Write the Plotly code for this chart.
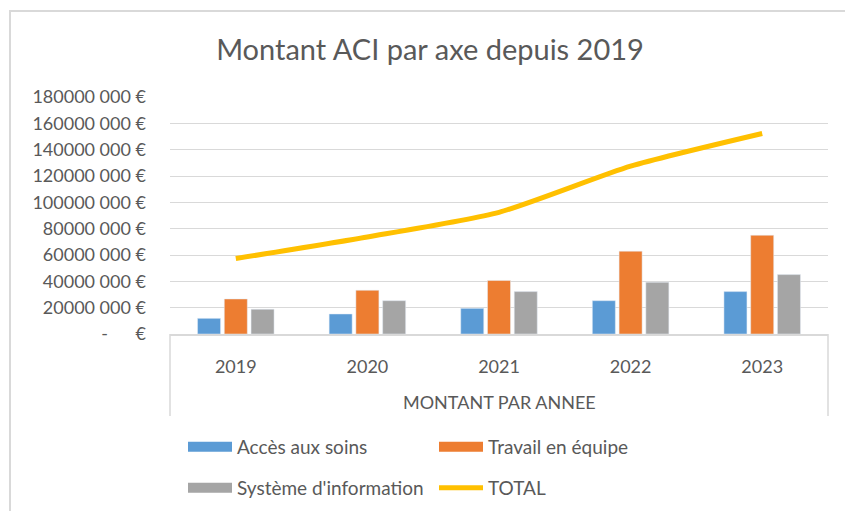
import plotly.graph_objects as go

years = ["2019", "2020", "2021", "2022", "2023"]
acces_soins = [11.9e6, 15.2e6, 19.5e6, 25.3e6, 32.2e6]
travail_equipe = [26.6e6, 33.2e6, 40.7e6, 62.9e6, 75.0e6]
systeme_info = [18.8e6, 25.3e6, 32.2e6, 39.3e6, 45.1e6]
total = [57.3e6, 73.7e6, 92.4e6, 127.5e6, 152.3e6]

tick_vals = [0, 20e6, 40e6, 60e6, 80e6, 100e6, 120e6, 140e6, 160e6, 180e6]
tick_text = ["-\u00a0\u00a0\u00a0\u00a0\u00a0\u00a0€", "20000 000 €", "40000 000 €", "60000 000 €",
             "80000 000 €", "100000 000 €", "120000 000 €", "140000 000 €",
             "160000 000 €", "180000 000 €"]

BLUE, ORANGE, GRAY, YELLOW = "#5B9BD5", "#ED7D31", "#A5A5A5", "#FFC000"
TXT = "#595959"
FONT = "Lato"

fig = go.Figure()
fig.add_trace(go.Bar(x=years, y=acces_soins, name="Accès aux soins", marker_color=BLUE, showlegend=False))
fig.add_trace(go.Bar(x=years, y=travail_equipe, name="Travail en équipe", marker_color=ORANGE, showlegend=False))
fig.add_trace(go.Bar(x=years, y=systeme_info, name="Système d'information", marker_color=GRAY, showlegend=False))

# legend proxies with wide swatches
fig.add_trace(go.Scatter(x=[None], y=[None], mode="lines", name="Accès aux soins",
                         line=dict(color=BLUE, width=10), legend="legend"))
fig.add_trace(go.Scatter(x=[None], y=[None], mode="lines", name="Travail en équipe",
                         line=dict(color=ORANGE, width=10), legend="legend"))
fig.add_trace(go.Scatter(x=[None], y=[None], mode="lines", name="Système d'information",
                         line=dict(color=GRAY, width=10), legend="legend2"))

fig.add_trace(go.Scatter(x=years, y=total, name="TOTAL", mode="lines",
                         line=dict(color=YELLOW, width=5, shape="spline", smoothing=0.6),
                         legend="legend2"))

W, H = 845, 511
L, R, T, B = 170, 17, 97, 177
pw, ph = W - L - R, H - T - B

def px_x(x):
    return (x - L) / pw

def px_y(y):
    return (H - B - y) / ph

legend_common = dict(orientation="h", xanchor="left", yanchor="middle",
                     font=dict(family=FONT, size=19, color=TXT),
                     entrywidth=192, itemwidth=44, bgcolor="rgba(0,0,0,0)",
                     traceorder="normal", tracegroupgap=0)

fig.update_layout(
    width=W, height=H,
    margin=dict(l=L, r=R, t=T, b=B, autoexpand=False),
    paper_bgcolor="white", plot_bgcolor="white",
    font=dict(family=FONT, color=TXT),
    title=dict(text="Montant ACI par axe depuis 2019", x=430 / W, xanchor="center",
               y=1 - 50 / H, yanchor="middle", xref="container", yref="container",
               font=dict(family=FONT, size=29, color=TXT)),
    barmode="group", bargap=0.39, bargroupgap=0.14,
    legend=dict(x=px_x(183), y=px_y(447), **legend_common),
    legend2=dict(x=px_x(183), y=px_y(488), **legend_common),
    xaxis=dict(showline=True, linecolor="#D9D9D9", linewidth=1.5, ticks="",
               tickfont=dict(family=FONT, size=18, color=TXT), ticklabelstandoff=16,
               showgrid=False, fixedrange=True),
    yaxis=dict(range=[0, 180e6], tickvals=tick_vals, ticktext=tick_text,
               tickfont=dict(family=FONT, size=18, color=TXT), ticklabelstandoff=23,
               showgrid=True, gridcolor="#D9D9D9", gridwidth=1.3, zeroline=False,
               showline=False, fixedrange=True),
    annotations=[dict(text="MONTANT PAR ANNEE", xref="paper", yref="paper", x=0.5, y=px_y(402),
                      xanchor="center", yanchor="middle", showarrow=False,
                      font=dict(family=FONT, size=18, color=TXT))],
    shapes=[
        dict(type="line", xref="paper", yref="paper", x0=0, x1=0, y0=0, y1=px_y(416),
             line=dict(color="#D9D9D9", width=1.5)),
        dict(type="line", xref="paper", yref="paper", x0=1, x1=1, y0=0, y1=px_y(416),
             line=dict(color="#D9D9D9", width=1.5)),
        dict(type="rect", xref="paper", yref="paper", x0=px_x(10), x1=px_x(860),
             y0=px_y(530), y1=px_y(11), line=dict(color="#D9D9D9", width=2),
             fillcolor="rgba(0,0,0,0)", layer="below"),
    ],
)

fig.write_html("out.html", config={"displayModeBar": False},
               post_script="document.body.style.margin='0px';")
